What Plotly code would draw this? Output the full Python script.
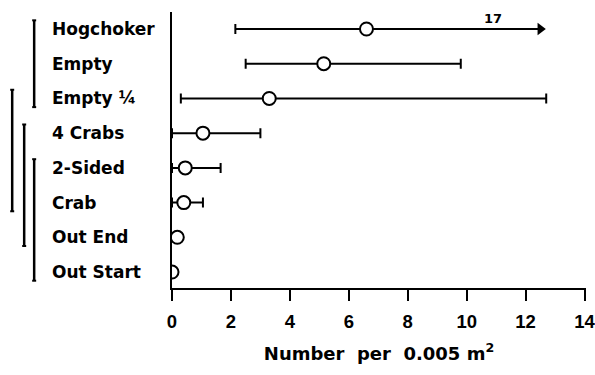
import plotly.graph_objects as go

# Mean density (number per 0.005 m^2) with observed range for each sample type
categories = ["Hogchoker", "Empty", "Empty ¼", "4 Crabs", "2-Sided", "Crab", "Out End", "Out Start"]
means = [6.6, 5.15, 3.3, 1.05, 0.45, 0.4, 0.18, 0.0]
lower = [2.15, 2.5, 0.3, 0.0, 0.0, 0.0, 0.0, 0.0]
upper = [17.0, 9.8, 12.7, 3.0, 1.65, 1.05, 0.18, 0.0]
x_ticks = [0, 2, 4, 6, 8, 10, 12, 14]

# Sample types joined by a line do not differ significantly
groups = [("Hogchoker", "Empty ¼"), ("Empty ¼", "Crab"),
          ("4 Crabs", "Out End"), ("2-Sided", "Out Start")]
group_px = [34, 12, 24, 34]          # horizontal pixel position of each bracket

X_RANGE = [0, 14.05]
Y_RANGE = [-0.46, 7.49]
AXIS_BREAK = 12.7                    # ranges longer than this end in an arrow
FONT = "DejaVu Sans"
TICK_FONT = "Liberation Sans"
L, R, T, B = 172, 8.5, 12, 87
W, H = 595, 375
plot_w = W - L - R

n = len(categories)
ypos = {c: n - 1 - i for i, c in enumerate(categories)}
ys = [ypos[c] for c in categories]


def y_paper(v):
    return (v - Y_RANGE[0]) / (Y_RANGE[1] - Y_RANGE[0])


fig = go.Figure()

within = [i for i in range(n) if upper[i] <= AXIS_BREAK]
beyond = [i for i in range(n) if upper[i] > AXIS_BREAK]

# whisker segments and arrowheads for ranges running off the scale
for i in beyond:
    fig.add_trace(go.Scatter(
        x=[means[i], AXIS_BREAK - 0.2], y=[ys[i], ys[i]], mode="lines",
        line=dict(color="black", width=2), hoverinfo="skip", showlegend=False))
    fig.add_trace(go.Scatter(
        x=[AXIS_BREAK - 0.2], y=[ys[i]], mode="markers",
        marker=dict(symbol="triangle-right", size=11, color="black"),
        hoverinfo="skip", showlegend=False))

marker = dict(symbol="circle", size=13, color="white", line=dict(color="black", width=2))

fig.add_trace(go.Scatter(
    x=[means[i] for i in within], y=[ys[i] for i in within], mode="markers",
    marker=marker, showlegend=False,
    error_x=dict(type="data", symmetric=False,
                 array=[upper[i] - means[i] for i in within],
                 arrayminus=[means[i] - lower[i] for i in within],
                 color="black", thickness=2, width=5)))

fig.add_trace(go.Scatter(
    x=[means[i] for i in beyond], y=[ys[i] for i in beyond], mode="markers",
    marker=marker, showlegend=False,
    error_x=dict(type="data", symmetric=False,
                 array=[0 for i in beyond],
                 arrayminus=[means[i] - lower[i] for i in beyond],
                 color="black", thickness=2, width=5)))

annotations = []
for i in beyond:
    annotations.append(dict(
        x=AXIS_BREAK - 1.8, y=ys[i], xref="x", yref="y", yshift=11,
        text=f"{upper[i]:g}", showarrow=False,
        font=dict(family=FONT, size=13, color="black", weight="bold")))

# category labels, left aligned
for c in categories:
    annotations.append(dict(
        x=(50 - L) / plot_w, y=ypos[c], xref="paper", yref="y",
        xanchor="left", yanchor="middle", text=c, showarrow=False,
        font=dict(family=FONT, size=17, color="black", weight="bold")))

shapes = []
for (a, b), px in zip(groups, group_px):
    xp = (px - L) / plot_w
    y0 = y_paper(ypos[b] - 0.25)
    y1 = y_paper(ypos[a] + 0.25)
    shapes.append(dict(type="line", xref="paper", yref="paper",
                       x0=xp, x1=xp, y0=y0, y1=y1,
                       line=dict(color="black", width=2.5)))
    for yy in (y0, y1):
        shapes.append(dict(type="line", xref="paper", yref="paper",
                           x0=xp - 2 / plot_w, x1=xp + 2 / plot_w, y0=yy, y1=yy,
                           line=dict(color="black", width=2)))

fig.update_layout(
    width=W, height=H,
    margin=dict(l=L, r=R, t=T, b=B, autoexpand=False),
    plot_bgcolor="white", paper_bgcolor="white",
    annotations=annotations, shapes=shapes,
    showlegend=False,
    xaxis=dict(range=X_RANGE, tickvals=x_ticks, ticktext=[str(t) for t in x_ticks],
               automargin=False,
               showgrid=False, zeroline=False, showline=True, linecolor="black",
               linewidth=2, ticks="outside", ticklen=11, tickwidth=2,
               tickcolor="black", ticklabelstandoff=5, ticklabeloverflow="allow",
               tickfont=dict(family=TICK_FONT, size=18.5, color="black", weight="bold"),
               title=dict(text="Number  per  0.005 m<sup>2</sup>", standoff=16,
                          font=dict(family=FONT, size=18, color="black", weight="bold"))),
    yaxis=dict(range=Y_RANGE, showgrid=False, zeroline=False, showline=True,
               automargin=False,
               linecolor="black", linewidth=2, showticklabels=False, ticks=""),
)

fig.write_html("out.html")
